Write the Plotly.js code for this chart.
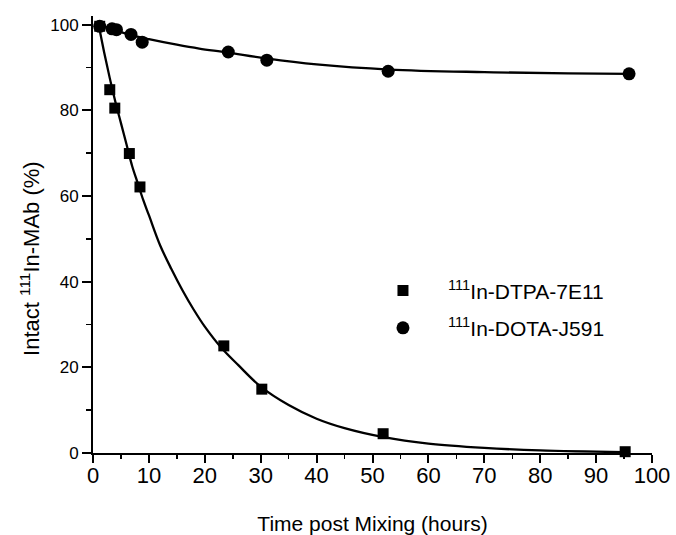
<!DOCTYPE html>
<html>
<head>
<meta charset="utf-8">
<script src="https://cdn.plot.ly/plotly-3.0.1.min.js"></script>
<style>html,body{margin:0;padding:0;background:#fff;}#chart{width:676px;height:535px;}</style>
</head>
<body>
<div id="chart"></div>
<script>
// Measured points
const dtpaTime = [1.2, 3.0, 3.9, 6.5, 8.4, 23.4, 30.2, 51.9, 95.2];
const dtpaIntact = [99.6, 84.8, 80.5, 69.9, 62.1, 25.0, 14.9, 4.5, 0.3];
const dotaTime = [1.2, 3.4, 4.2, 6.8, 8.8, 24.2, 31.1, 52.8, 95.9];
const dotaIntact = [99.6, 99.0, 98.8, 97.7, 95.9, 93.6, 91.7, 89.1, 88.5];
// Fitted curves
const dtpaFitTime = [1, 2, 3, 4, 5, 6, 7, 8, 9, 10, 12, 14, 16, 18, 20, 23, 26, 30, 35, 40, 45, 52, 60, 70, 80, 95];
const dtpaFitIntact = [100, 93.5, 87.5, 82, 77, 72, 67, 63, 59, 55.5, 48.5, 43, 38, 33.5, 29.5, 24.5, 20.5, 15.5, 11.2, 8.0, 5.8, 3.7, 2.2, 1.2, 0.6, 0.2];
const dotaFitTime = [1, 4, 7, 10, 15, 19, 24, 31, 40, 53, 70, 85, 96];
const dotaFitIntact = [100, 98.7, 97.5, 96.6, 95.3, 94.4, 93.5, 92.1, 90.7, 89.5, 88.9, 88.6, 88.5];
// Labels
const dtpaName = '<sup>111</sup>In-DTPA-7E11';
const dotaName = '<sup>111</sup>In-DOTA-J591';
const xTitle = 'Time post Mixing (hours)';
const yTitle = 'Intact <sup>111</sup>In-MAb (%)';

const traces = [
  {x: dtpaFitTime, y: dtpaFitIntact, mode: 'lines', line: {color: '#000', width: 2.3, shape: 'spline'}, showlegend: false, hoverinfo: 'skip'},
  {x: dotaFitTime, y: dotaFitIntact, mode: 'lines', line: {color: '#000', width: 2.3, shape: 'spline'}, showlegend: false, hoverinfo: 'skip'},
  {x: dtpaTime, y: dtpaIntact, mode: 'markers', name: dtpaName, legendgroup: 'a', marker: {symbol: 'square', size: 11, color: '#000'}, cliponaxis: false},
  {x: dotaTime, y: dotaIntact, mode: 'markers', name: dotaName, legendgroup: 'b', marker: {symbol: 'circle', size: 13, color: '#000'}, cliponaxis: false}
];

const layout = {
  width: 676, height: 535,
  margin: {l: 93, r: 24, t: 16, b: 82},
  paper_bgcolor: '#fff', plot_bgcolor: '#fff',
  font: {family: 'Liberation Sans, Arial, sans-serif', color: '#000'},
  showlegend: true,
  legend: {x: 0.474, y: 0.418, xanchor: 'left', yanchor: 'top', itemwidth: 80, traceorder: 'grouped', tracegroupgap: 7,
           font: {size: 21, color: '#000'}, bgcolor: 'rgba(0,0,0,0)'},
  xaxis: {
    range: [0, 100], showgrid: false, zeroline: false, showline: true, linecolor: '#000', linewidth: 2,
    ticks: 'outside', ticklen: 8, tickwidth: 2, tickcolor: '#000', dtick: 10, tick0: 0,
    minor: {dtick: 5, ticks: 'outside', ticklen: 4, tickwidth: 1.5, tickcolor: '#000'},
    tickfont: {family: 'Liberation Sans Narrow, Arial Narrow, Liberation Sans, sans-serif', size: 22},
    ticklabelstandoff: -6,
    title: {text: xTitle, font: {size: 21}, standoff: 32}
  },
  yaxis: {
    range: [0, 102], showgrid: false, zeroline: false, showline: true, linecolor: '#000', linewidth: 2,
    ticks: 'outside', ticklen: 9, tickwidth: 2, tickcolor: '#000', dtick: 20, tick0: 0,
    minor: {dtick: 10, ticks: 'outside', ticklen: 5, tickwidth: 1.5, tickcolor: '#000'},
    tickfont: {size: 17}
  },
  annotations: [
    {text: yTitle, xref: 'paper', yref: 'paper', x: -0.113, y: 0.446, textangle: -90, showarrow: false, font: {size: 22}, xanchor: 'center', yanchor: 'middle'}
  ]
};

Plotly.newPlot('chart', traces, layout, {displayModeBar: false, staticPlot: true});
</script>
</body>
</html>
